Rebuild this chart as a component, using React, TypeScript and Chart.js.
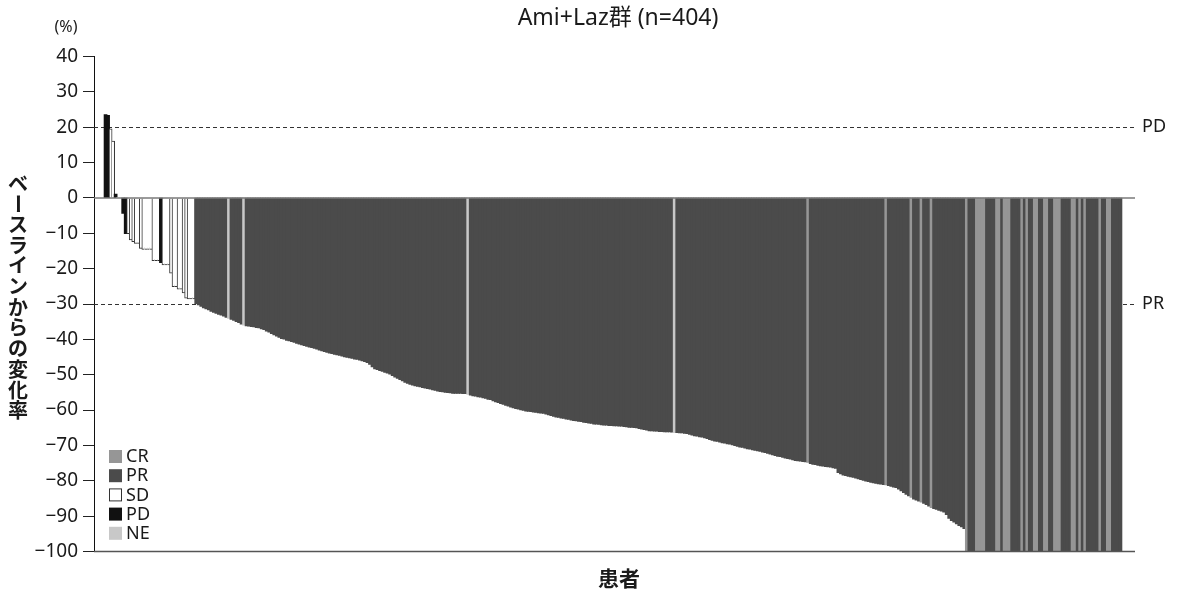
import React, { useEffect, useRef } from "react";
import { Chart, registerables } from "chart.js";

Chart.register(...registerables);

const chartTitle = "Ami+Laz群 (n=404)";
const xAxisTitle = "患者";
const yAxisTitle = "ベースラインからの変化率";
const yUnitLabel = "(%)";

const responseKeys = ["C", "P", "S", "D", "N"];
const responseLabels = ["CR", "PR", "SD", "PD", "NE"];
const responseColors = ["#969696", "#4b4b4b", "#ffffff", "#111111", "#c8c8c8"];

const thresholdValues = [20, -30];
const thresholdLabels = ["PD", "PR"];

const yTickValues = [40, 30, 20, 10, 0, -10, -20, -30, -40, -50, -60, -70, -80, -90, -100];

// best response per patient (C=CR, P=PR, S=SD, D=PD, N=NE), 10 patients per row
const responseCodeRows = [
  "DDSSDSSDDS", "SSSSSSSSSS", "SSDSSSSSSS", "SSSSSSPPPP", "PPPPPPPPPN",
  "PPPPPNPPPP", "PPPPPPPPPP", "PPPPPPPPPP", "PPPPPPPPPP", "PPPPPPPPPP",
  "PPPPPPPPPP", "PPPPPPPPPP", "PPPPPPPPPP", "PPPPPPPPPP", "PPPPNPPPPP",
  "PPPPPPPPPP", "PPPPPPPPPP", "PPPPPPPPPP", "PPPPPPPPPP", "PPPPPPPPPP",
  "PPPPPPPPPP", "PPPPPPPPPP", "PPPPPPNPPP", "PPPPPPPPPP", "PPPPPPPPPP",
  "PPPPPPPPPP", "PPPPPPPPPP", "PPPPPPPPPC", "PPPPPPPPPP", "PPPPPPPPPP",
  "PPPPPPPPPP", "CPPPPPPPPP", "CPPPCPPPCP", "PPPPPPPPPP", "PPCPPPCCCC",
  "PPPPCCPCCC", "PPPPCPCPPC", "CPPCCPPCCC", "PPPPCCPCPC", "PPPPPCPPCC",
  "PPPP",
];
const responseCodes = responseCodeRows.join("").split("");

// best % change from baseline in target lesion sum, one value per patient
const changeFromBaseline = [
  23.5, 23.3, 19.5, 16, 1, 0, 0, -4.3, -10, -10,
  -11.8, -12.3, -12.8, -12.8, -14.2, -14.5, -14.5, -14.5, -14.5, -17.7,
  -17.7, -17.7, -18.2, -18.9, -18.9, -18.9, -21.2, -25, -25, -25.7,
  -25.7, -26.8, -28.3, -28.5, -28.5, -28.5, -29.8, -30.2, -30.6, -31.0,
  -31.3, -31.6, -32.0, -32.3, -32.6, -32.9, -33.1, -33.4, -33.7, -34.0,
  -34.3, -34.6, -34.9, -35.2, -35.6, -35.9, -36.1, -36.2, -36.3, -36.4,
  -36.6, -36.7, -37.0, -37.2, -37.6, -37.9, -38.3, -38.7, -39.0, -39.4,
  -39.7, -39.9, -40.2, -40.4, -40.6, -40.8, -41.1, -41.3, -41.5, -41.7,
  -41.9, -42.1, -42.3, -42.5, -42.7, -43.0, -43.2, -43.4, -43.6, -43.8,
  -44.0, -44.2, -44.3, -44.5, -44.7, -44.9, -45.0, -45.2, -45.3, -45.5,
  -45.6, -45.8, -46.0, -46.2, -46.5, -47.0, -47.7, -48.3, -48.5, -48.8,
  -49.0, -49.3, -49.5, -49.8, -50.2, -50.6, -51.0, -51.3, -51.7, -52.1,
  -52.4, -52.7, -52.9, -53.1, -53.2, -53.4, -53.6, -53.7, -53.9, -54.0,
  -54.2, -54.4, -54.6, -54.7, -54.8, -54.9, -55.0, -55.1, -55.2, -55.2,
  -55.2, -55.2, -55.3, -55.3, -55.5, -55.7, -55.9, -56.0, -56.2, -56.3,
  -56.5, -56.6, -56.9, -57.0, -57.3, -57.6, -57.8, -58.1, -58.3, -58.6,
  -58.8, -59.1, -59.3, -59.5, -59.7, -59.9, -60.0, -60.2, -60.3, -60.4,
  -60.5, -60.6, -60.7, -60.8, -60.9, -61.1, -61.3, -61.5, -61.7, -61.9,
  -62.0, -62.2, -62.3, -62.5, -62.6, -62.8, -62.9, -63.0, -63.1, -63.2,
  -63.4, -63.5, -63.6, -63.7, -63.9, -63.9, -64.0, -64.1, -64.2, -64.2,
  -64.3, -64.3, -64.4, -64.4, -64.5, -64.5, -64.6, -64.7, -64.8, -64.8,
  -64.9, -65.0, -65.2, -65.3, -65.5, -65.6, -65.8, -65.8, -65.9, -65.9,
  -66.0, -66.0, -66.1, -66.1, -66.1, -66.2, -66.3, -66.3, -66.4, -66.4,
  -66.5, -66.6, -66.8, -67.0, -67.2, -67.3, -67.5, -67.6, -67.8, -68.0,
  -68.3, -68.5, -68.7, -68.8, -69.0, -69.2, -69.3, -69.5, -69.6, -69.8,
  -70.0, -70.2, -70.4, -70.5, -70.7, -70.9, -71.0, -71.2, -71.3, -71.5,
  -71.6, -71.8, -72.0, -72.2, -72.4, -72.6, -72.8, -73.0, -73.1, -73.3,
  -73.5, -73.7, -73.8, -74.0, -74.2, -74.3, -74.4, -74.5, -74.6, -74.7,
  -75.1, -75.3, -75.4, -75.6, -75.7, -75.8, -75.9, -76.0, -76.1, -76.3,
  -76.4, -77.6, -78.0, -78.3, -78.5, -78.7, -78.8, -79.0, -79.2, -79.4,
  -79.6, -79.8, -80.0, -80.2, -80.4, -80.5, -80.7, -80.8, -80.9, -81.0,
  -81.1, -81.3, -81.5, -81.7, -81.9, -82.3, -82.8, -83.3, -83.8, -84.2,
  -84.6, -85.1, -85.4, -85.7, -86.0, -86.3, -86.7, -87.1, -87.5, -87.8,
  -88.0, -88.3, -88.5, -88.8, -89.5, -90.6, -91.2, -91.6, -92.1, -92.6,
  -93.0, -93.5, -100, -100, -100, -100, -100, -100, -100, -100,
  -100, -100, -100, -100, -100, -100, -100, -100, -100, -100,
  -100, -100, -100, -100, -100, -100, -100, -100, -100, -100,
  -100, -100, -100, -100, -100, -100, -100, -100, -100, -100,
  -100, -100, -100, -100, -100, -100, -100, -100, -100, -100,
  -100, -100, -100, -100, -100, -100, -100, -100, -100, -100,
  -100, -100, -100, -100,
];

const FONT = '"Noto Sans", "Noto Sans CJK JP", sans-serif';
const CJK_FONT = '"Noto Sans CJK JP", "Noto Sans", sans-serif';
const TEXT_COLOR = "#1a1a1a";

function colorFor(i: number): string {
  return responseColors[responseKeys.indexOf(responseCodes[i])];
}

function sdBorder(i: number): any {
  if (responseCodes[i] !== "S") return 0;
  const v = changeFromBaseline[i];
  if (v === 0) return 0;
  const prevSD = i > 0 && responseCodes[i - 1] === "S";
  const nextSD = i < changeFromBaseline.length - 1 && responseCodes[i + 1] === "S";
  if (v > 0) return { top: 1, left: prevSD ? 0 : 1, right: 1, bottom: 0 };
  const prevSame = prevSD && changeFromBaseline[i - 1] === v;
  return { top: 0, bottom: 1, left: prevSame ? 0 : 1, right: nextSD ? 0 : 1 };
}

const decorPlugin = {
  id: "decor",
  beforeDatasetsDraw(chart: any) {
    const { ctx, chartArea, scales } = chart;
    const y = scales.y;
    ctx.save();
    ctx.setLineDash([4, 3]);
    ctx.strokeStyle = "#333";
    ctx.lineWidth = 1;
    thresholdValues.forEach((v) => {
      const py = Math.round(y.getPixelForValue(v)) + 0.5;
      ctx.beginPath();
      ctx.moveTo(chartArea.left, py);
      ctx.lineTo(chartArea.right, py);
      ctx.stroke();
    });
    ctx.restore();
  },
  afterDatasetsDraw(chart: any) {
    const { ctx, chartArea, scales } = chart;
    const y = scales.y;
    ctx.save();
    const y0 = y.getPixelForValue(0);
    ctx.strokeStyle = "#7a7a7a";
    ctx.lineWidth = 1.5;
    ctx.beginPath();
    ctx.moveTo(chartArea.left, y0);
    ctx.lineTo(chartArea.right, y0);
    ctx.stroke();
    const yb = y.getPixelForValue(-100);
    ctx.strokeStyle = "#555";
    ctx.beginPath();
    ctx.moveTo(chartArea.left, yb);
    ctx.lineTo(chartArea.right, yb);
    ctx.stroke();
    ctx.fillStyle = TEXT_COLOR;
    ctx.font = `18px ${FONT}`;
    ctx.textAlign = "left";
    ctx.textBaseline = "middle";
    thresholdValues.forEach((v, k) => {
      ctx.fillText(thresholdLabels[k], chartArea.right + 7, y.getPixelForValue(v));
    });
    responseLabels.forEach((lab, k) => {
      const top = 450 + k * 19.2;
      ctx.fillStyle = responseColors[k];
      ctx.fillRect(109, top, 13, 13);
      if (responseKeys[k] === "S") {
        ctx.strokeStyle = "#333";
        ctx.lineWidth = 1;
        ctx.strokeRect(109.5, top + 0.5, 12, 12);
      }
      ctx.fillStyle = TEXT_COLOR;
      ctx.font = `18px ${FONT}`;
      ctx.textAlign = "left";
      ctx.textBaseline = "middle";
      ctx.fillText(lab, 126, top + 7);
    });
    ctx.restore();
  },
  afterDraw(chart: any) {
    const { ctx } = chart;
    ctx.save();
    ctx.fillStyle = TEXT_COLOR;
    ctx.textAlign = "center";
    ctx.textBaseline = "middle";
    ctx.font = `23px ${FONT}`;
    ctx.fillText(chartTitle, 618, 18);
    ctx.font = `bold 21px ${CJK_FONT}`;
    ctx.fillText(xAxisTitle, 619, 578);
    ctx.font = `16px ${FONT}`;
    ctx.fillText(yUnitLabel, 66, 27);
    ctx.font = `bold 20px ${CJK_FONT}`;
    Array.from(yAxisTitle).forEach((ch, k) => {
      ctx.save();
      ctx.translate(18, 183 + k * 20.7);
      if (ch === "ー") ctx.rotate(Math.PI / 2);
      ctx.fillText(ch, 0, 0);
      ctx.restore();
    });
    ctx.restore();
  },
};

export default function App() {
  const canvasRef = useRef<HTMLCanvasElement | null>(null);

  useEffect(() => {
    const canvas = canvasRef.current;
    if (!canvas) return;
    const chart = new Chart(canvas, {
      type: "bar",
      data: {
        datasets: [
          {
            data: changeFromBaseline.map((v, i) => ({ x: i, y: v })),
            backgroundColor: (c: any) => colorFor(c.dataIndex),
            borderColor: "#333",
            borderWidth: (c: any) => sdBorder(c.dataIndex),
            inflateAmount: 0.6,
            barPercentage: 1,
            categoryPercentage: 1,
          } as any,
        ],
      },
      options: {
        responsive: false,
        animation: false,
        devicePixelRatio: 1,
        events: [],
        layout: { padding: { left: 0, top: 56.5, right: 42, bottom: 43.5 } },
        plugins: {
          legend: { display: false },
          tooltip: { enabled: false },
          title: { display: false },
        },
        scales: {
          x: {
            type: "linear",
            display: false,
            min: -4.59,
            max: 408.78,
            offset: false,
          },
          y: {
            min: -100,
            max: 40,
            afterBuildTicks: (s: any) => {
              s.ticks = yTickValues.map((v) => ({ value: v }));
            },
            afterFit: (s: any) => {
              s.width = 94;
            },
            grid: {
              drawOnChartArea: false,
              drawTicks: true,
              tickLength: 11,
              color: "#222",
              lineWidth: 1,
            },
            border: { display: true, color: "#111", width: 1 },
            ticks: {
              padding: 5,
              color: TEXT_COLOR,
              font: { family: FONT, size: 19 },
              callback: (v: any) => (Number(v) < 0 ? "\u2212" + Math.abs(Number(v)) : String(v)),
            },
          },
        },
      } as any,
      plugins: [decorPlugin],
    });
    return () => chart.destroy();
  }, []);

  return (
    <div style={{ position: "absolute", left: 0, top: 0, width: 1177, height: 595, background: "#fff" }}>
      <canvas ref={canvasRef} width={1177} height={595} style={{ display: "block" }} />
    </div>
  );
}
